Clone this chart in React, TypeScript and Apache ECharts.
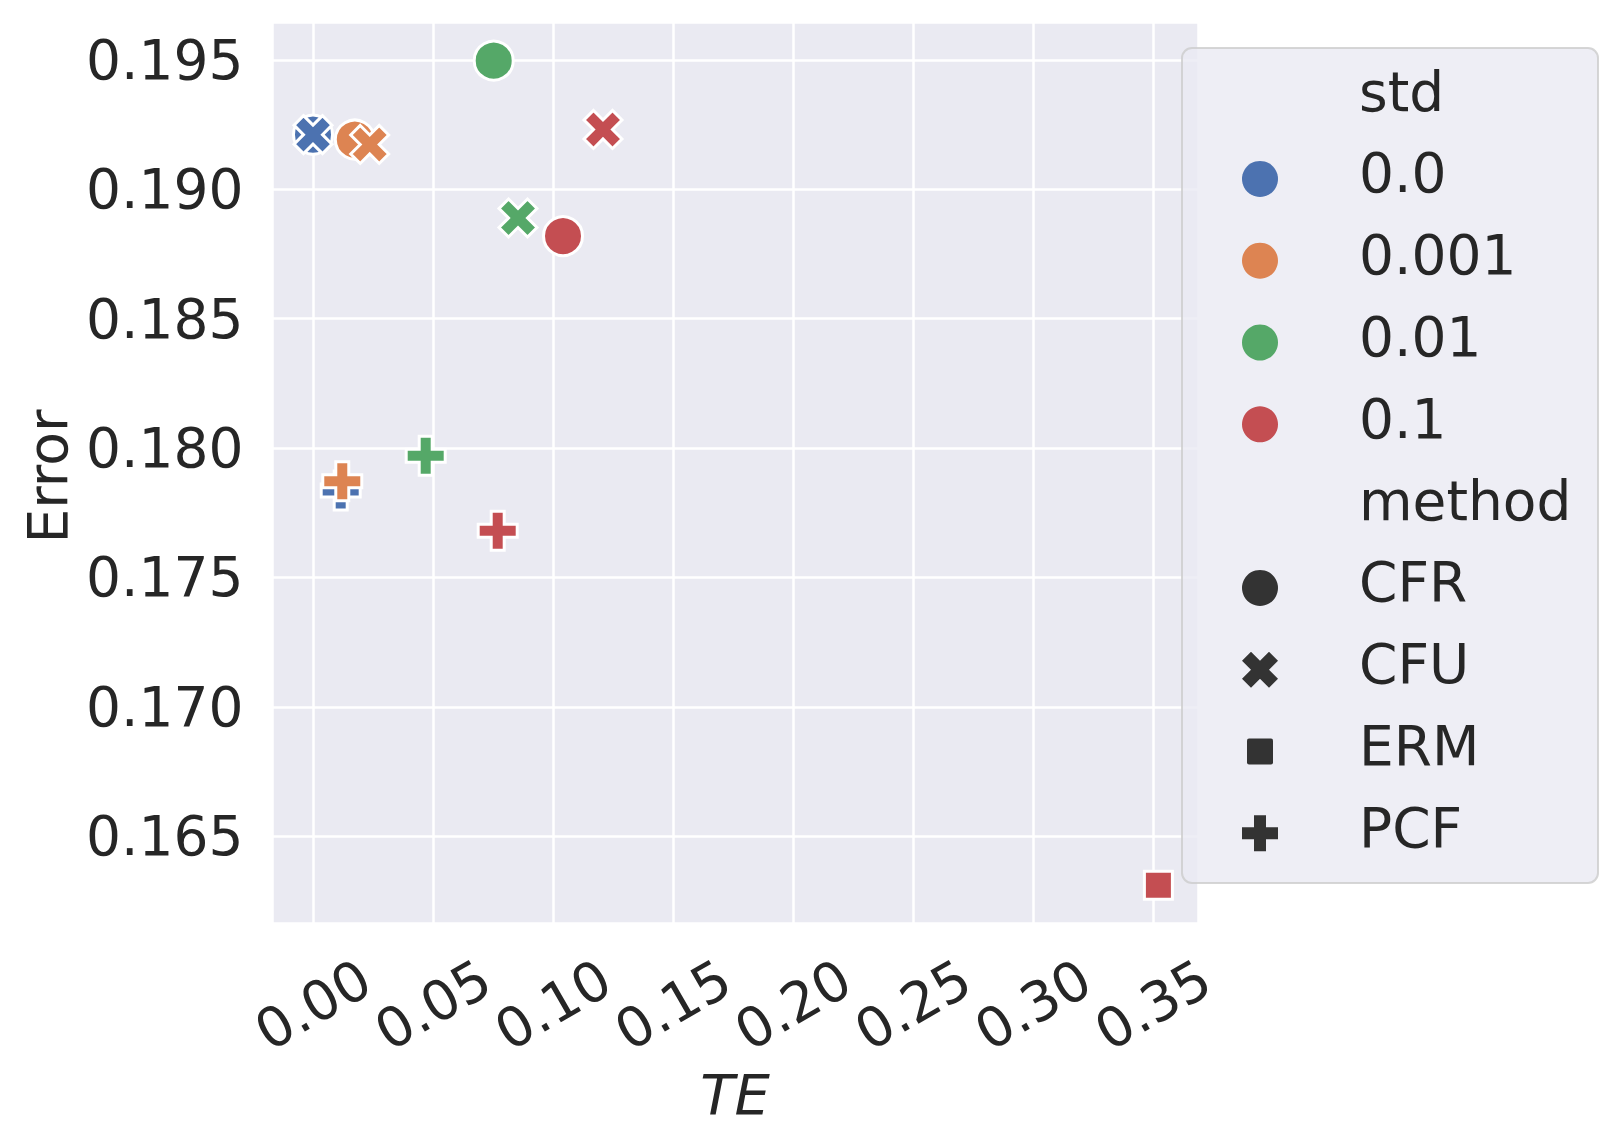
import React, { useEffect, useRef } from "react";
import * as echarts from "echarts";

// ---- data ----
const stdLabels = ["0.0", "0.001", "0.01", "0.1"];
const stdColors = ["#4C72B0", "#DD8452", "#55A868", "#C44E52"];
const methodLabels = ["CFR", "CFU", "ERM", "PCF"];
// points in drawing order
const pointStd = [0, 0, 0, 1, 1, 1, 2, 2, 2, 3, 3, 3, 3];
const pointMethod = [0, 1, 3, 0, 1, 3, 0, 1, 3, 0, 1, 2, 3];
const teValues = [0.0, 0.0, 0.01154, 0.01742, 0.02363, 0.0122, 0.07529, 0.08542, 0.04696, 0.10417, 0.12083, 0.35225, 0.07696];
const errorValues = [0.19211, 0.19211, 0.17836, 0.19192, 0.19173, 0.17872, 0.19497, 0.18889, 0.1797, 0.18819, 0.19231, 0.16311, 0.17681];
const legendTitles = ["std", "method"];

const TEXT = "#262626";
const FONT = "DejaVu Sans";

const X_VERTS = [[-1, -2], [0, -1], [1, -2], [2, -1], [1, 0], [2, 1], [1, 2], [0, 1], [-1, 2], [-2, 1], [-1, 0], [-2, -1]];
const P_VERTS = [[-1, -3], [1, -3], [1, -1], [3, -1], [3, 1], [1, 1], [1, 3], [-1, 3], [-1, 1], [-3, 1], [-3, -1], [-1, -1]];
const toPath = (v: number[][]) => "path://M" + v.map((p) => p[0] + "," + p[1]).join("L") + "Z";

const methodSymbols = ["circle", toPath(X_VERTS), "rect", toPath(P_VERTS)];
const methodSizes = [39, 38, 28, 39];

function legendMarker(method: number, cx: number, cy: number, color: string) {
  if (method === 0) return { type: "circle", shape: { cx, cy, r: 18 }, style: { fill: color }, z: 101 };
  if (method === 2) return { type: "rect", shape: { x: cx - 13, y: cy - 13, width: 26, height: 26, r: 2 }, style: { fill: color }, z: 101 };
  const verts = method === 1 ? X_VERTS : P_VERTS;
  const k = method === 1 ? 9 : 6;
  return { type: "polygon", shape: { points: verts.map((p) => [cx + p[0] * k, cy + p[1] * k]) }, style: { fill: color }, z: 101 };
}

function legendText(text: string, y: number) {
  return {
    type: "text",
    x: 1359,
    y,
    z: 101,
    style: {
      text,
      fill: TEXT,
      fontSize: 55,
      fontFamily: FONT,
      align: "left",
      verticalAlign: "middle",
      textAlign: "left",
      textVerticalAlign: "middle",
    },
  };
}

export default function App() {
  const ref = useRef<HTMLDivElement>(null);
  useEffect(() => {
    if (!ref.current) return;
    const chart = echarts.init(ref.current, undefined, { renderer: "svg" });

    const data = teValues.map((te, i) => ({
      value: [te, errorValues[i]],
      symbol: methodSymbols[pointMethod[i]],
      symbolSize: methodSizes[pointMethod[i]],
      itemStyle: { color: stdColors[pointStd[i]] },
    }));

    const rowY0 = 91.6;
    const rowStep = 81.8;
    const mx = 1260;
    const children: any[] = [
      {
        type: "rect",
        shape: { x: 1182, y: 48, width: 416, height: 835, r: 10 },
        style: { fill: "rgba(234,234,242,0.8)", stroke: "rgba(204,204,204,0.8)", lineWidth: 2 },
        z: 100,
      },
    ];
    let row = 0;
    children.push(legendText(legendTitles[0], rowY0 + row * rowStep));
    row++;
    stdLabels.forEach((lab, i) => {
      const y = rowY0 + row * rowStep;
      children.push(legendMarker(0, mx, y + 5.5, stdColors[i]));
      children.push(legendText(lab, y));
      row++;
    });
    children.push(legendText(legendTitles[1], rowY0 + row * rowStep));
    row++;
    methodLabels.forEach((lab, i) => {
      const y = rowY0 + row * rowStep;
      children.push(legendMarker(i, mx, y + 5.5, "#333333"));
      children.push(legendText(lab, y));
      row++;
    });

    chart.setOption({
      animation: false,
      backgroundColor: "#ffffff",
      grid: {
        left: 272,
        top: 22,
        width: 926,
        height: 901,
        show: true,
        backgroundColor: "#EAEAF2",
        borderWidth: 0,
        containLabel: false,
      },
      xAxis: {
        type: "value",
        min: -0.017083,
        max: 0.36875,
        splitNumber: 8,
        name: "TE",
        nameLocation: "middle",
        nameGap: 171,
        nameTextStyle: { fontSize: 56, fontStyle: "italic", fontFamily: FONT, color: TEXT, verticalAlign: "middle" },
        axisLine: { show: false },
        axisTick: { show: false },
        splitLine: { show: true, lineStyle: { color: "#ffffff", width: 2.5 } },
        axisLabel: {
          rotate: 30,
          align: "center",
          verticalAlign: "middle",
          margin: 82,
          fontSize: 55,
          fontFamily: FONT,
          color: TEXT,
          showMinLabel: false,
          showMaxLabel: false,
          formatter: (v: number) => v.toFixed(2),
        },
      },
      yAxis: {
        type: "value",
        min: 0.16165,
        max: 0.196463,
        splitNumber: 7,
        name: "Error",
        nameLocation: "middle",
        nameGap: 223,
        nameTextStyle: { fontSize: 55, fontFamily: FONT, color: TEXT, verticalAlign: "middle", padding: [0, 8, 0, 0] },
        axisLine: { show: false },
        axisTick: { show: false },
        splitLine: { show: true, lineStyle: { color: "#ffffff", width: 2.5 } },
        axisLabel: {
          margin: 28.5,
          fontSize: 55,
          fontFamily: FONT,
          color: TEXT,
          showMinLabel: false,
          showMaxLabel: false,
          formatter: (v: number) => v.toFixed(3),
        },
      },
      series: [
        {
          type: "scatter",
          data,
          itemStyle: { borderColor: "#ffffff", borderWidth: 3, opacity: 1 },
          emphasis: { disabled: true },
          z: 5,
        },
      ],
      graphic: { elements: [{ type: "group", children }] },
    });

    return () => chart.dispose();
  }, []);

  return (
    <div
      ref={ref}
      style={{ position: "fixed", left: 0, top: 0, width: 1615, height: 1146, background: "#fff" }}
    />
  );
}
